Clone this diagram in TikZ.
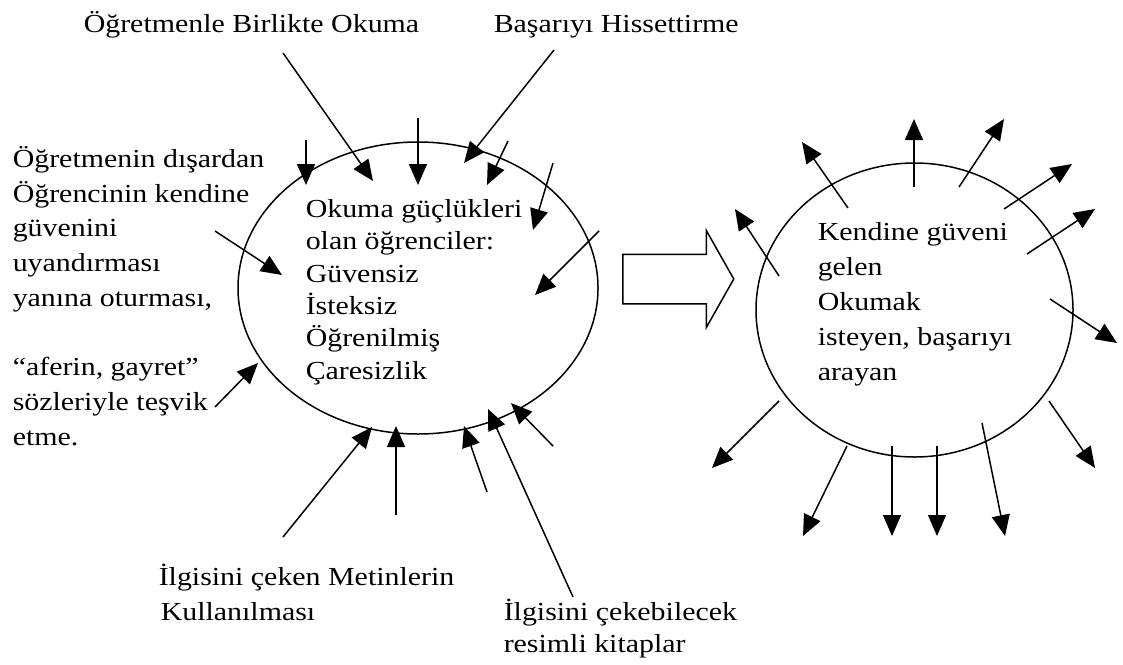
\documentclass[tikz,border=0pt]{standalone}
\usepackage{fontspec}
\setmainfont{Liberation Serif}[FakeStretch=1.15]
\usetikzlibrary{arrows.meta,shapes.geometric,shapes.arrows}

\begin{document}
\begin{tikzpicture}[x=1pt, y=-1pt, line width=1.5pt, >={Triangle[length=21pt,width=18pt]},
  every node/.style={inner sep=0pt, font=\fontsize{26}{34.7}\selectfont},
  lbl/.style={anchor=base west, align=left}]
  \useasboundingbox (0,0) rectangle (1123,664);
  % the two groups of pupils and the change between them
  \node[draw, ellipse, minimum width=360pt, minimum height=292pt] (weak) at (418,288) {};
  \node[draw, ellipse, minimum width=317pt, minimum height=294pt] (strong) at (914.5,310) {};
  \node[draw, single arrow, anchor=tail, inner xsep=0pt, inner ysep=24pt, minimum height=111pt,
    single arrow head extend=23.5pt, single arrow tip angle=121] (change) at (622,279) {};

  % labels, placed at the baseline of their last line
  \node[lbl] (tOgr) at (83,32) {Öğretmenle Birlikte Okuma};
  \node[lbl] (tBas) at (493,32) {Başarıyı Hissettirme};
  \node[lbl] (tLeft) at (12,445) {Öğretmenin dışardan\\Öğrencinin kendine\\güvenini\\uyandırması\\yanına oturması,\\[34.7pt]“aferin, gayret”\\sözleriyle teşvik\\etme.};
  \node[lbl, font=\fontsize{26}{32.3}\selectfont] (tWeak) at (305,379) {Okuma güçlükleri\\olan öğrenciler:\\Güvensiz\\İsteksiz\\Öğrenilmiş\\Çaresizlik};
  \node[lbl, font=\fontsize{26}{35}\selectfont] (tStrong) at (817,380) {Kendine güveni\\gelen\\Okumak\\isteyen, başarıyı\\arayan};
  \node[lbl] (tMetin) at (158,620) {İlgisini çeken Metinlerin\\\hspace*{2pt}Kullanılması};
  \node[lbl, font=\fontsize{26}{32}\selectfont] (tResim) at (503,652) {İlgisini çekebilecek\\resimli kitaplar};

  % arrows pointing in
  \foreach \n/\s/\t in {a1/{283,53}/{373,181}, a2/{554,50}/{464,163}, a3/{306,140}/{306,185},
      a4/{418,118}/{418,185}, a5/{508,141}/{487,185}, a6/{553,163}/{533,230},
      a7/{599,231}/{535,295}, a8/{215,231}/{282,275}, a9/{215,407}/{258,363},
      a10/{283,537}/{372,427}, a11/{396,515}/{396,426}, a12/{487,492}/{464,426},
      a13/{573,597}/{488,409}, a14/{553,446}/{511,403}}{
    \coordinate (\n-s) at (\s);
    \coordinate (\n-t) at (\t);
    \draw[->] (\n-s) -- (\n-t);
  }
  % arrows pointing out
  \foreach \n/\s/\t in {b1/{848,208}/{802,142}, b2/{914,187}/{914,119}, b3/{959,187}/{1004,119},
      b4/{1004,209}/{1072,164}, b5/{1027,254}/{1095,209}, b6/{779,276}/{735,209},
      b7/{1050,299}/{1117,343}, b8/{1049,401}/{1095,468}, b9/{779,401}/{712,468},
      b10/{847,446}/{803,536}, b11/{892,446}/{892,536}, b12/{937,446}/{937,536},
      b13/{982,423}/{1005,536}}{
    \coordinate (\n-s) at (\s);
    \coordinate (\n-t) at (\t);
    \draw[->] (\n-s) -- (\n-t);
  }
\end{tikzpicture}
\end{document}
